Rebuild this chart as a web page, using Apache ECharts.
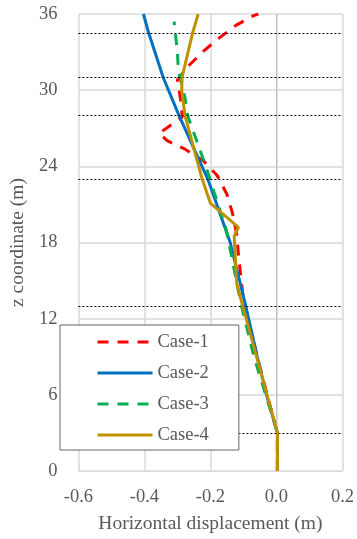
<!DOCTYPE html>
<html>
<head>
<meta charset="utf-8">
<script src="https://cdn.jsdelivr.net/npm/echarts@6/dist/echarts.min.js"></script>
<style>
html,body{margin:0;padding:0;background:#fff;}
#chart{width:357px;height:539px;}
</style>
</head>
<body>
<div id="chart"></div>
<script>
// ---- data ----
const seriesNames = ['Case-1', 'Case-2', 'Case-3', 'Case-4'];

const case1Z = [0, 3, 6, 9, 13.5, 17, 18.6, 20.3, 21.8, 23.3, 24.4, 25.4, 26.0, 26.6, 27.9, 29.2, 30.8, 32.0, 33.1, 34.1, 35.1, 35.85, 36];
const case1X = [0.003, 0.003, -0.028, -0.058, -0.1, -0.115, -0.12, -0.133, -0.15, -0.18, -0.22, -0.28, -0.33, -0.355, -0.285, -0.29, -0.3, -0.263, -0.22, -0.174, -0.123, -0.071, -0.055];

const case2Z = [0, 3, 6, 9, 13, 18, 23, 28, 31, 34.5, 36];
const case2X = [0.003, 0.003, -0.03, -0.058, -0.093, -0.14, -0.208, -0.295, -0.343, -0.387, -0.403];

const case3Z = [0, 3, 9, 13, 19, 24, 28, 29.4, 31.5, 33, 35.4];
const case3X = [0.003, 0.003, -0.068, -0.106, -0.152, -0.214, -0.269, -0.277, -0.297, -0.3, -0.31];

const case4Z = [0, 3, 14.7, 18.5, 19.2, 21.1, 23, 28, 30, 31, 32, 34.5, 36];
const case4X = [0.003, 0.003, -0.12, -0.128, -0.115, -0.2, -0.225, -0.277, -0.287, -0.286, -0.277, -0.254, -0.237];

const layerDepths = [3, 13, 23, 28, 31, 34.5];

const xTicks = [-0.6, -0.4, -0.2, 0.0, 0.2];
const zTicks = [0, 6, 12, 18, 24, 30, 36];

// ---- chart ----
const FONT = '"Liberation Serif", "Times New Roman", serif';
const GREY = '#595959';
const pairs = (xs, zs) => xs.map((x, i) => [x, zs[i]]);

const colors = ['#FF0000', '#0070C0', '#00B050', '#BF9000'];
const dashes = [[11, 9], 'solid', [11, 9], 'solid'];
const allX = [case1X, case2X, case3X, case4X];
const allZ = [case1Z, case2Z, case3Z, case4Z];

const series = seriesNames.map((name, i) => ({
  name: name,
  type: 'line',
  data: pairs(allX[i], allZ[i]),
  showSymbol: false,
  symbol: 'none',
  smooth: false,
  z: 2 + i,
  lineStyle: { color: colors[i], width: 3, type: dashes[i] },
  itemStyle: { color: colors[i] },
  animation: false
}));

// vertical axis line at x = 0 and dotted layer lines
series.push({
  name: 'guides',
  type: 'line',
  data: [],
  silent: true,
  z: 1,
  markLine: {
    silent: true,
    symbol: 'none',
    animation: false,
    label: { show: false },
    data: [
      { xAxis: 0, lineStyle: { color: '#BFBFBF', width: 1, type: 'solid' } }
    ]
  }
});
series.push({
  name: 'layers',
  type: 'line',
  data: [],
  silent: true,
  z: 6,
  markLine: {
    silent: true,
    symbol: 'none',
    animation: false,
    label: { show: false },
    lineStyle: { color: '#000000', width: 1, type: [2, 2] },
    data: layerDepths.map(d => ({ yAxis: d }))
  }
});

const chart = echarts.init(document.getElementById('chart'), null, { renderer: 'canvas' });
chart.setOption({
  animation: false,
  backgroundColor: '#ffffff',
  color: colors,
  grid: { left: 67, right: 10, top: 14, bottom: 64, containLabel: false },
  xAxis: {
    type: 'value',
    min: xTicks[0],
    max: xTicks[xTicks.length - 1],
    interval: 0.2,
    name: 'Horizontal displacement (m)',
    nameLocation: 'middle',
    nameGap: 43,
    nameTextStyle: { fontFamily: FONT, fontSize: 19.5, color: GREY },
    axisLine: { show: true, onZero: false, lineStyle: { color: '#D9D9D9', width: 1 } },
    axisTick: { show: false },
    axisLabel: {
      fontFamily: FONT, fontSize: 18.5, color: GREY, margin: 17,
      formatter: v => v.toFixed(1)
    },
    splitLine: { show: true, lineStyle: { color: '#D9D9D9', width: 1.5 } }
  },
  yAxis: {
    type: 'value',
    min: zTicks[0],
    max: zTicks[zTicks.length - 1],
    interval: 6,
    name: 'z coordinate (m)',
    nameLocation: 'middle',
    nameGap: 38,
    nameTextStyle: { fontFamily: FONT, fontSize: 19.5, color: GREY },
    axisLine: { show: false },
    axisTick: { show: false },
    axisLabel: { fontFamily: FONT, fontSize: 18.5, color: GREY, margin: 21 },
    splitLine: { show: true, lineStyle: { color: '#D9D9D9', width: 1.5 } }
  },
  legend: {
    data: seriesNames,
    orient: 'vertical',
    left: 60,
    top: 325,
    z: 20,
    padding: [7, 30, 5, 36],
    itemWidth: 55,
    itemHeight: 20,
    itemGap: 11,
    backgroundColor: '#ffffff',
    borderColor: '#666666',
    borderWidth: 1,
    itemStyle: { opacity: 0 },
    lineStyle: { width: 3 },
    textStyle: { fontFamily: FONT, fontSize: 18.5, color: GREY, lineHeight: 20 }
  },
  series: series
});
</script>
</body>
</html>
